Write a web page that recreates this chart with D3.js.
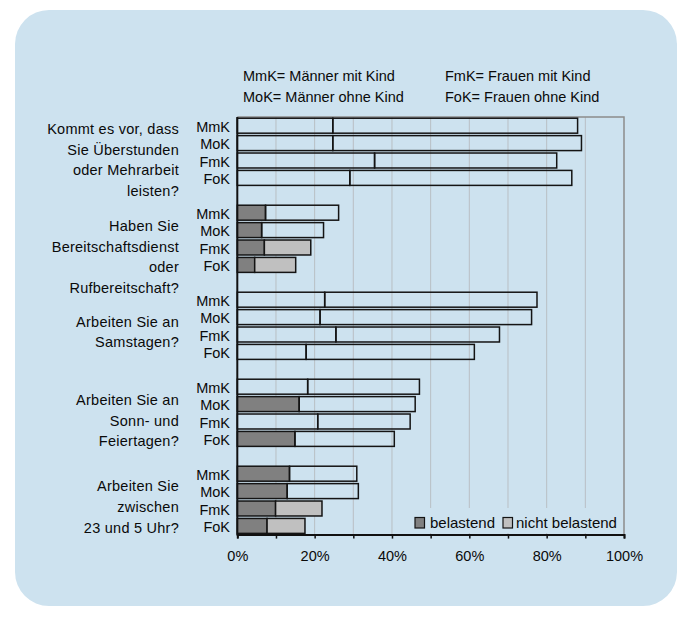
<!DOCTYPE html>
<html>
<head>
<meta charset="utf-8">
<script src="https://cdn.jsdelivr.net/npm/d3@7"></script>
<style>
  html, body { margin: 0; padding: 0; background: #ffffff; }
  svg text { font-family: "Liberation Sans", Arial, Helvetica, sans-serif; fill: #0a0a0a; }
</style>
</head>
<body>
<svg id="chart" width="692" height="624"></svg>
<script>
// Survey questions (one entry per group, split into display lines)
const questions = [
  ["Kommt es vor, dass", "Sie Überstunden", "oder Mehrarbeit", "leisten?"],
  ["Haben Sie", "Bereitschaftsdienst", "oder", "Rufbereitschaft?"],
  ["Arbeiten Sie an", "Samstagen?"],
  ["Arbeiten Sie an", "Sonn- und", "Feiertagen?"],
  ["Arbeiten Sie", "zwischen", "23 und 5 Uhr?"]
];

// Respondent groups within each question
const categories = ["MmK", "MoK", "FmK", "FoK"];

// Share (%) answering yes and finding it a burden
const belastend = [
  [24.7, 24.7, 35.5, 29.1],
  [7.3, 6.3, 7.0, 4.5],
  [22.6, 21.4, 25.5, 17.8],
  [18.2, 16.0, 20.8, 14.9],
  [13.5, 12.9, 9.9, 7.7]
];

// Share (%) answering yes and not finding it a burden
const nichtBelastend = [
  [63.3, 64.3, 47.1, 57.4],
  [18.9, 16.0, 12.0, 10.6],
  [54.9, 54.7, 42.3, 43.5],
  [28.9, 30.0, 23.9, 25.7],
  [17.4, 18.4, 12.0, 9.8]
];

// Axis tick values and series names
const xTicks = [0, 10, 20, 30, 40, 50, 60, 70, 80, 90, 100];
const seriesNames = ["belastend", "nicht belastend"];
const abbreviations = [
  ["MmK= Männer mit Kind", "FmK= Frauen mit Kind"],
  ["MoK= Männer ohne Kind", "FoK= Frauen ohne Kind"]
];

// ---- styling -------------------------------------------------------------
// which segments are shaded (1) or left open (0)
const shadeBelastend = [
  [0, 0, 0, 0],
  [1, 1, 1, 1],
  [0, 0, 0, 0],
  [0, 1, 0, 1],
  [1, 1, 1, 1]
];
const shadeNicht = [
  [0, 0, 0, 0],
  [0, 0, 1, 1],
  [0, 0, 0, 0],
  [0, 0, 0, 0],
  [0, 0, 1, 1]
];
const labelShift = [8.3, 18, 6, 7.8, 7.2];

const panelColor = "#cde2ef";
const darkFill = "#808080";
const lightFill = "#c0c0c0";
const fontSize = 14.5;

const svg = d3.select("#chart");

// rounded background panel
svg.append("rect")
  .attr("x", 15).attr("y", 10)
  .attr("width", 662).attr("height", 596)
  .attr("rx", 34).attr("ry", 34)
  .attr("fill", panelColor);

const plot = { left: 237.3, right: 624, top: 117, bottom: 534.6 };

// slot keys: four bars per question plus an empty slot between questions
const slots = [];
questions.forEach((q, gi) => {
  categories.forEach(c => slots.push(gi + "|" + c));
  if (gi < questions.length - 1) slots.push("gap" + gi);
});

const y = d3.scaleBand()
  .domain(slots)
  .range([plot.top, plot.bottom])
  .paddingInner(0.14)
  .paddingOuter(0.07);

const x = d3.scaleLinear().domain([0, 100]).range([plot.left, plot.right]);

// vertical gridlines
svg.append("g")
  .selectAll("line")
  .data(xTicks.filter(t => t > 0 && t < 100))
  .join("line")
  .attr("x1", d => x(d)).attr("x2", d => x(d))
  .attr("y1", plot.top).attr("y2", plot.bottom)
  .attr("stroke", "#b9bfc4").attr("stroke-width", 1);

// top and right frame
svg.append("path")
  .attr("d", `M${plot.left},${plot.top}H${plot.right}V${plot.bottom}`)
  .attr("fill", "none").attr("stroke", "#8c8c8c").attr("stroke-width", 1.5);

// legend background (hides gridlines behind legend)
const legend = { x: 404, y: 508, w: 219, h: 25 };
svg.append("rect")
  .attr("x", legend.x).attr("y", legend.y)
  .attr("width", legend.w).attr("height", legend.h)
  .attr("fill", panelColor);

// bar records
const records = [];
questions.forEach((q, gi) => {
  categories.forEach((c, ci) => {
    const b = belastend[gi][ci];
    const n = nichtBelastend[gi][ci];
    records.push({ key: gi + "|" + c, x0: 0, x1: b, fill: shadeBelastend[gi][ci] ? darkFill : "none" });
    records.push({ key: gi + "|" + c, x0: b, x1: b + n, fill: shadeNicht[gi][ci] ? lightFill : "none" });
  });
});

svg.append("g")
  .selectAll("rect")
  .data(records)
  .join("rect")
  .attr("x", d => x(d.x0))
  .attr("y", d => y(d.key))
  .attr("width", d => x(d.x1) - x(d.x0))
  .attr("height", y.bandwidth())
  .attr("fill", d => d.fill)
  .attr("stroke", "#141414")
  .attr("stroke-width", 1.5);

// category labels
svg.append("g")
  .selectAll("text")
  .data(slots.filter(s => !s.startsWith("gap")))
  .join("text")
  .attr("x", 230)
  .attr("y", d => y(d) + y.bandwidth() / 2 + 6)
  .attr("text-anchor", "end")
  .attr("font-size", fontSize)
  .text(d => d.split("|")[1]);

// question labels
const lineHeight = 20.6;
questions.forEach((lines, gi) => {
  const top = y(gi + "|" + categories[0]);
  const bottom = y(gi + "|" + categories[categories.length - 1]) + y.bandwidth();
  const center = (top + bottom) / 2 + labelShift[gi];
  const first = center - (lines.length - 1) / 2 * lineHeight + 5;
  svg.append("text")
    .attr("text-anchor", "end")
    .attr("font-size", fontSize)
    .attr("letter-spacing", 0.25)
    .selectAll("tspan")
    .data(lines)
    .join("tspan")
    .attr("x", 179)
    .attr("y", (d, i) => first + i * lineHeight)
    .text(d => d);
});

// bottom axis
const xAxis = d3.axisBottom(x)
  .tickValues(xTicks)
  .tickSize(4)
  .tickPadding(12)
  .tickFormat(d => d % 20 === 0 ? d + "%" : "");
const ax = svg.append("g")
  .attr("transform", `translate(0,${plot.bottom})`)
  .call(xAxis);
ax.select(".domain").attr("stroke", "#111").attr("stroke-width", 2);
ax.selectAll(".tick line").attr("stroke", "#111").attr("stroke-width", 1.5);
ax.selectAll(".tick text")
  .attr("font-size", fontSize)
  .attr("font-family", "Liberation Sans, Arial, sans-serif")
  .attr("fill", "#0a0a0a");

// left axis line
svg.append("line")
  .attr("x1", plot.left).attr("x2", plot.left)
  .attr("y1", plot.top).attr("y2", plot.bottom + 1)
  .attr("stroke", "#111").attr("stroke-width", 2);

// legend
const legendItems = [
  { name: seriesNames[0], fill: darkFill, sx: 415, tx: 430 },
  { name: seriesNames[1], fill: lightFill, sx: 503, tx: 516 }
];
const lg = svg.append("g");
lg.selectAll("rect")
  .data(legendItems)
  .join("rect")
  .attr("x", d => d.sx).attr("y", 517.5)
  .attr("width", 9.5).attr("height", 10.5)
  .attr("fill", d => d.fill)
  .attr("stroke", "#141414").attr("stroke-width", 1.2);
lg.selectAll("text")
  .data(legendItems)
  .join("text")
  .attr("x", d => d.tx).attr("y", 528.3)
  .attr("font-size", 15)
  .text(d => d.name);

// abbreviation key above the plot
abbreviations.forEach((row, ri) => {
  row.forEach((t, ci) => {
    svg.append("text")
      .attr("x", ci === 0 ? 243 : 445)
      .attr("y", 80.7 + ri * 21)
      .attr("font-size", fontSize)
      .text(t);
  });
});
</script>
</body>
</html>
